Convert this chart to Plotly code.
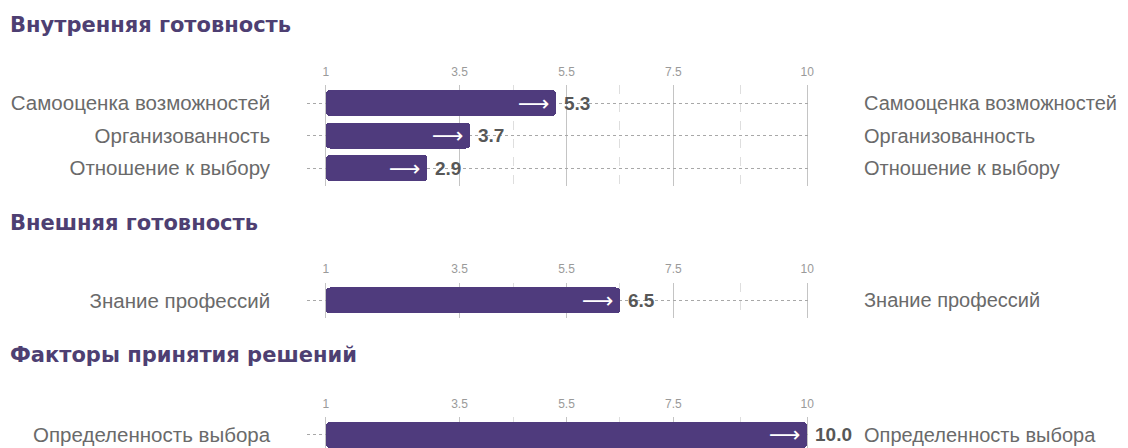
import plotly.graph_objects as go

W, H = 1128, 448

# ---- data ----
section_titles = ["Внутренняя готовность", "Внешняя готовность", "Факторы принятия решений"]
cats_inner = ["Самооценка возможностей", "Организованность", "Отношение к выбору"]
vals_inner = [5.3, 3.7, 2.9]
cats_outer = ["Знание профессий"]
vals_outer = [6.5]
cats_decision = ["Определенность выбора"]
vals_decision = [10.0]
tick_vals = [1, 3.5, 5.5, 7.5, 10]
tick_text = ["1", "3.5", "5.5", "7.5", "10"]
minor_vals = [4.5, 6.5, 8.75]
scale_min = 1

# ---- style ----
BAR = "#4f3b7d"
TITLE_C = "#4e3f72"
LABEL_C = "#6a6a6a"
VALUE_C = "#575757"
FONT = "Liberation Sans"

x_lo, x_hi = 0.65, 10.06
px_per_unit = (810 - 327) / 9.0
x0_px = 327 - (1 - x_lo) * px_per_unit
x1_px = 810 + (x_hi - 10) * px_per_unit
xdom = [x0_px / W, x1_px / W]

pitch = 32.5
pad = 0.55
blocks = [
    (cats_inner, vals_inner, 103, 25),
    (cats_outer, vals_outer, 300.5, 223),
    (cats_decision, vals_decision, 435, 355),
]

fig = go.Figure()
annotations = []
for i, (cats, vals, c0, ty) in enumerate(blocks):
    n = len(cats)
    top = c0 - pad * pitch
    bot = c0 + (n - 1 + pad) * pitch
    pad_bot = pad
    if bot > H:
        pad_bot = pad - (bot - H) / pitch
        bot = H
    sfx = "" if i == 0 else str(i + 1)
    xa, ya = "x" + sfx, "y" + sfx
    fig.add_trace(go.Bar(
        y=cats, x=[v - scale_min for v in vals], base=[scale_min] * n,
        orientation="h", marker=dict(color=BAR, cornerradius=4, line_width=0),
        width=0.8, xaxis=xa, yaxis=ya, showlegend=False, hoverinfo="skip",
    ))
    xaxis_cfg = dict(
        domain=xdom, range=[x_lo, x_hi], side="top", anchor=ya,
        tickvals=tick_vals, ticktext=tick_text, ticks="",
        tickfont=dict(family=FONT, size=12, color="#9a9a9a"),
        ticklabelstandoff=6,
        showgrid=True, gridcolor="#c4c4c4", gridwidth=1,
        minor=dict(tickvals=minor_vals, showgrid=True, gridcolor="#dedede",
                   griddash="dash", gridwidth=1),
        zeroline=False, showline=False, fixedrange=True,
    )
    yaxis_cfg = dict(
        domain=[max(0.0, 1 - bot / H), 1 - top / H], anchor=xa,
        categoryorder="array", categoryarray=cats,
        range=[n - 1 + pad_bot, -pad], showgrid=True, gridcolor="#a8a8a8",
        griddash="dot", gridwidth=1, zeroline=False, showline=False,
        ticks="", ticklabelstandoff=36,
        tickfont=dict(family=FONT, size=20.5, color=LABEL_C),
        fixedrange=True,
    )
    fig.update_layout(**{("xaxis" + sfx): xaxis_cfg, ("yaxis" + sfx): yaxis_cfg})

    annotations.append(dict(
        text="<b>" + section_titles[i] + "</b>", xref="paper", yref="paper",
        x=8 / W, y=1 - ty / H, xanchor="left", yanchor="middle", showarrow=False,
        font=dict(family="DejaVu Sans", size=21, color=TITLE_C),
    ))
    for c, v in zip(cats, vals):
        annotations.append(dict(
            text="⟶", xref=xa, yref=ya, x=v, y=c, xanchor="right", yanchor="middle",
            xshift=-4, showarrow=False, font=dict(family="DejaVu Sans", size=22, color="#ffffff"),
        ))
        annotations.append(dict(
            text="<b>%.1f</b>" % v, xref=xa, yref=ya, x=v, y=c, xanchor="left",
            yanchor="middle", xshift=6, showarrow=False,
            font=dict(family=FONT, size=19, color=VALUE_C),
        ))
        annotations.append(dict(
            text=c, xref="paper", yref=ya, x=865 / W, y=c, xanchor="left",
            yanchor="middle", showarrow=False,
            font=dict(family=FONT, size=20, color=LABEL_C),
        ))

fig.update_layout(
    width=W, height=H, margin=dict(l=0, r=0, t=0, b=0),
    paper_bgcolor="white", plot_bgcolor="white",
    annotations=annotations, bargap=0,
)
fig.write_html(
    "out.html",
    config={"displayModeBar": False, "staticPlot": True},
    post_script="document.body.style.margin='0';document.body.style.overflow='hidden';",
)
